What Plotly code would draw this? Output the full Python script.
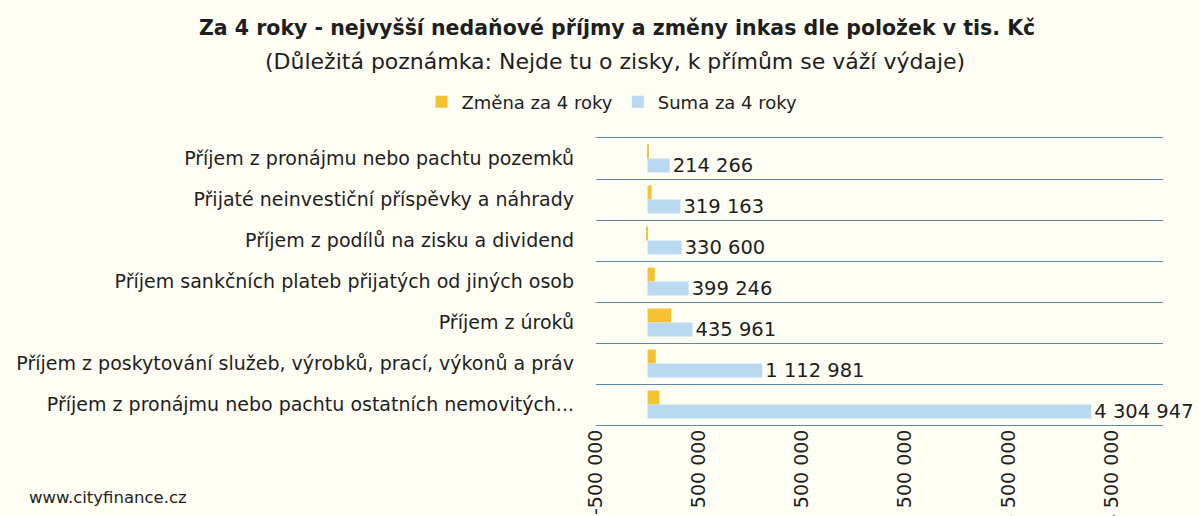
import plotly.graph_objects as go

categories = [
    "Příjem z pronájmu nebo pachtu pozemků",
    "Přijaté neinvestiční příspěvky a náhrady",
    "Příjem z podílů na zisku a dividend",
    "Příjem sankčních plateb přijatých od jiných osob",
    "Příjem z úroků",
    "Příjem z poskytování služeb, výrobků, prací, výkonů a práv",
    "Příjem z pronájmu nebo pachtu ostatních nemovitých...",
]
zmena = [10000, 40000, -15000, 70000, 230000, 80000, 115000]
suma = [214266, 319163, 330600, 399246, 435961, 1112981, 4304947]
suma_labels = ["214 266", "319 163", "330 600", "399 246", "435 961", "1 112 981", "4 304 947"]
tick_vals = [-500000, 500000, 1500000, 2500000, 3500000, 4500000]
tick_text = ["-500 000", "500 000", "1 500 000", "2 500 000", "3 500 000", "4 500 000"]

FONT = "DejaVu Sans"
TXT = "#1e1e1e"
BG = "#FFFEF4"
GRID = "#5B89A6"

W, H = 1199, 516
L, R, T, B = 596, 36, 138, 91
PW, PH = W - L - R, H - T - B


def px(x):
    return (x - L) / PW


def py(y):
    return (H - B - y) / PH


fig = go.Figure()
fig.add_trace(go.Bar(
    y=categories, x=zmena, orientation="h", name="Změna za 4 roky",
    marker=dict(color="#F4C233", line=dict(width=0)),
))
fig.add_trace(go.Bar(
    y=categories, x=suma, orientation="h", name="Suma za 4 roky",
    marker=dict(color="#B8D9EF", line=dict(width=0)),
    text=suma_labels, textposition="outside", cliponaxis=False,
    constraintext="none",
    textfont=dict(family=FONT, size=19.5, color=TXT),
))

fig.update_layout(
    template="none",
    width=W, height=H,
    paper_bgcolor=BG, plot_bgcolor=BG,
    margin=dict(l=L, r=R, t=T, b=B, autoexpand=False),
    barmode="group", bargap=0.32, bargroupgap=0,
    font=dict(family=FONT, color=TXT),
    showlegend=True,
    legend=dict(orientation="h", x=px(612), xanchor="center", y=py(102),
                yanchor="middle", font=dict(size=18, family=FONT, color=TXT),
                bgcolor="rgba(0,0,0,0)", traceorder="normal", itemwidth=30),
    annotations=[
        dict(text="<b>Za 4 roky - nejvyšší nedaňové příjmy a změny inkas dle položek v tis. Kč</b>",
             xref="paper", yref="paper", x=px(617), y=py(28), xanchor="center", yanchor="middle",
             showarrow=False, font=dict(size=20.5, family=FONT, color=TXT)),
        dict(text="(Důležitá poznámka: Nejde tu o zisky, k přímům se váží výdaje)",
             xref="paper", yref="paper", x=px(615), y=py(61), xanchor="center", yanchor="middle",
             showarrow=False, font=dict(size=22, family=FONT, color=TXT)),
        dict(text="www.cityfinance.cz",
             xref="paper", yref="paper", x=px(27), y=py(497), xanchor="left", yanchor="middle",
             showarrow=False, font=dict(size=16.5, family=FONT, color=TXT)),
    ],
)

fig.update_xaxes(
    range=[-500000, 5000000], tickvals=tick_vals, ticktext=tick_text,
    tickangle=-90, tickfont=dict(size=19, family=FONT, color=TXT),
    showgrid=False, zeroline=False, showline=True, mirror=True,
    linecolor=GRID, linewidth=1, ticks="", automargin=False,
    ticklabelstandoff=-4,
)
fig.update_yaxes(
    autorange="reversed", tickson="boundaries", showgrid=True,
    gridcolor=GRID, gridwidth=1, ticks="", showline=False, zeroline=False,
    tickfont=dict(size=19, family=FONT, color=TXT), ticklabelstandoff=21,
    automargin=False,
)

fig.write_html(
    "out.html",
    config={"displayModeBar": False},
    post_script="document.body.style.margin='0';document.body.style.background='#FFFEF4';",
)
